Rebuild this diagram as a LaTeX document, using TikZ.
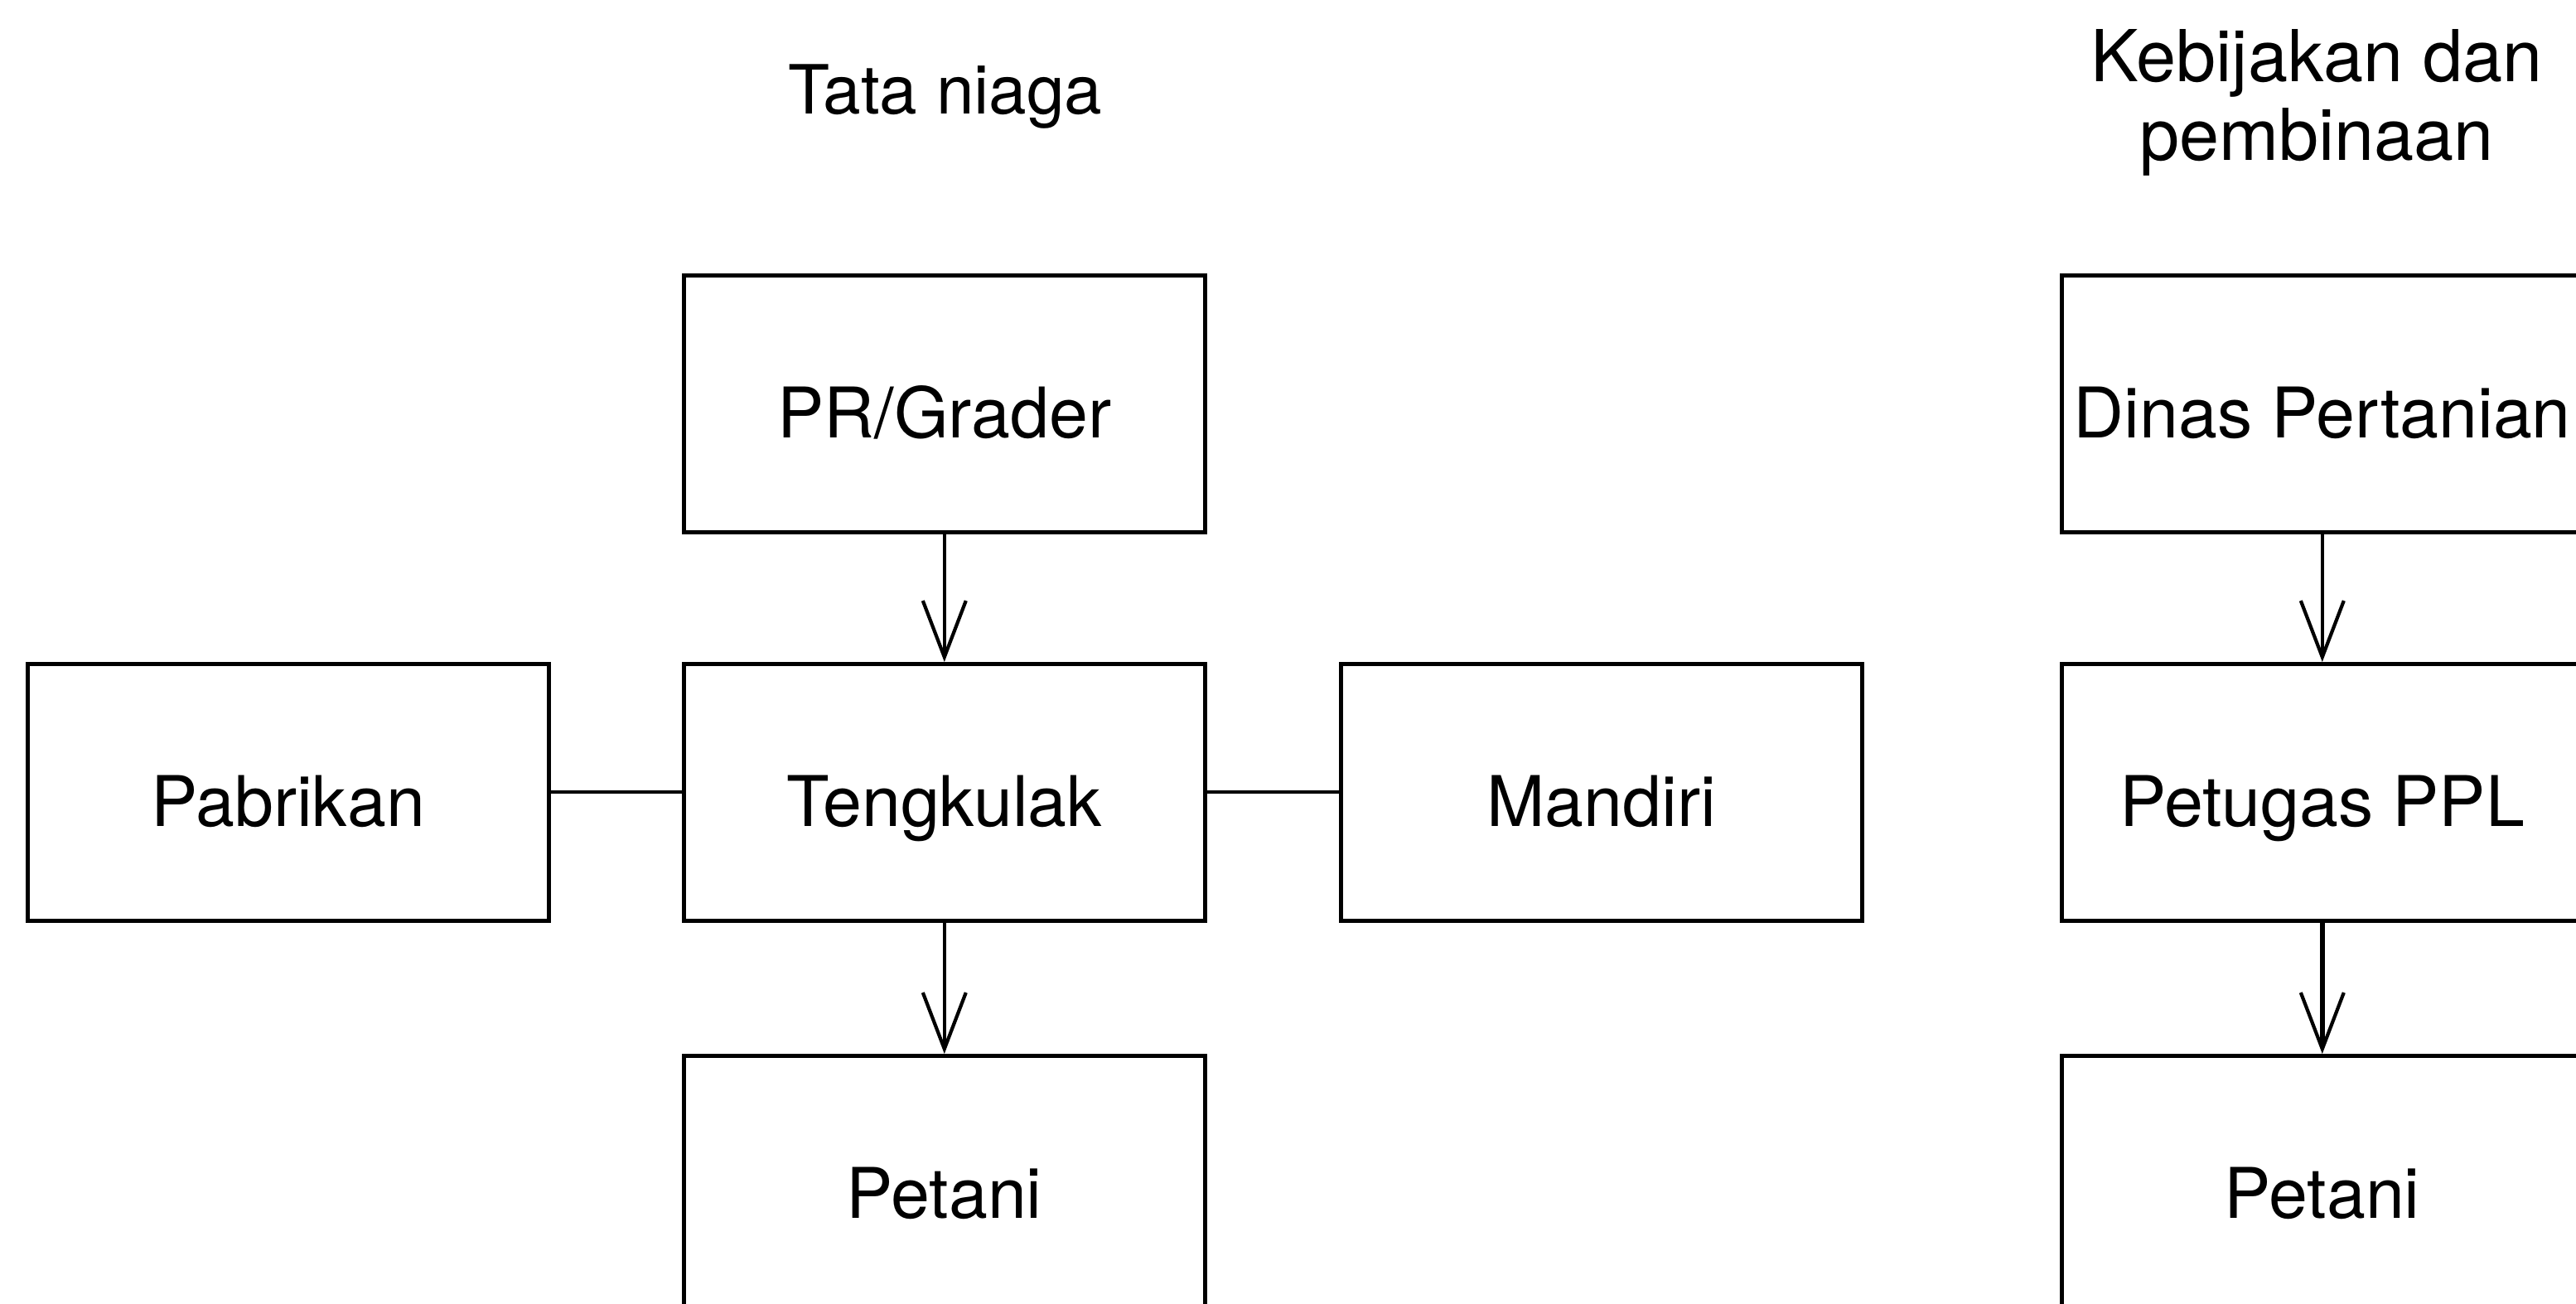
\documentclass[tikz,border=0pt]{standalone}
\usepackage{fontspec}
\setmainfont{TeX Gyre Heros}
\usetikzlibrary{arrows.meta}
\begin{document}
\begin{tikzpicture}[x=1cm,y=1cm,
  box/.style={draw=black, line width=1.3pt, anchor=north west,
    minimum width=6.29cm, minimum height=3.10cm, inner sep=0pt,
    font=\fontsize{24}{28}\selectfont, text height=28pt, text depth=4.7pt},
  flow/.style={line width=1.2pt,
    -{Straight Barb[length=0.68cm, width=0.52cm, sharp, line width=1.2pt]}},
  link/.style={line width=1.2pt},
  heading/.style={inner sep=0pt, align=center}]

\useasboundingbox (0,0) rectangle (31.09,-15.74);
\clip (0,0) rectangle (31.09,-15.74);
\fill[white] (0,0) rectangle (31.09,-15.74);

% headings
\node[heading, anchor=base, font=\fontsize{23.3}{25.2}\selectfont] (tnhead) at (11.41,-1.38) {Tata niaga};
\node[heading, anchor=north, font=\fontsize{24.6}{27}\selectfont] (kbhead) at (27.96,-0.35) {Kebijakan dan\\pembinaan};

% trade chain
\node[box] (pr)  at (8.23,-3.30)  {PR/Grader};
\node[box] (pab) at (0.31,-7.99)  {Pabrikan};
\node[box] (ten) at (8.23,-7.99)  {Tengkulak};
\node[box] (man) at (16.16,-7.99) {Mandiri};
\node[box] (pet) at (8.23,-12.72) {Petani};

% policy and guidance chain
\node[box] (din) at (24.86,-3.30)  {Dinas Pertanian};
\node[box] (ppl) at (24.86,-7.99)  {Petugas PPL};
\node[box] (pet2) at (24.86,-12.72) {Petani};

% connectors
\draw[flow] (pr.south) -- (ten.north);
\draw[flow] (ten.south) -- (pet.north);
\draw[link] (pab.east) -- (ten.west);
\draw[link] (ten.east) -- (man.west);
\draw[flow] (din.south) -- (ppl.north);
\draw[flow, line width=1.6pt] (ppl.south) -- (pet2.north);
\end{tikzpicture}
\end{document}
